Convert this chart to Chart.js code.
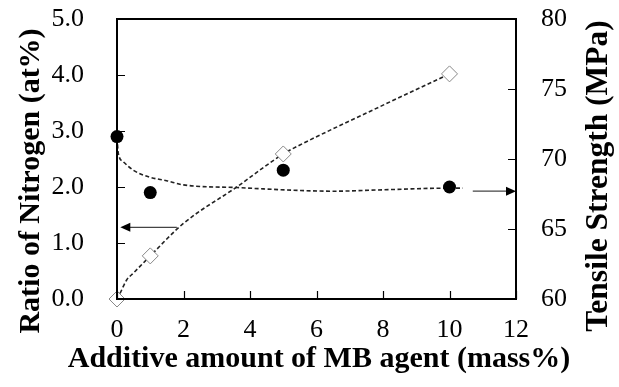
<!DOCTYPE html>
<html>
<head>
<meta charset="utf-8">
<script src="https://cdn.jsdelivr.net/npm/chart.js@4.4.1/dist/chart.umd.min.js"></script>
<style>
  body { margin: 0; background: #fff; }
  canvas { display: block; }
</style>
</head>
<body>
<canvas id="myChart" width="619" height="387"></canvas>
<script>
// measured points
var addAmount = [0, 1, 5, 10];
var nitrogenRatio = [0, 0.77, 2.59, 4.02];
var tensileStrength = [71.6, 67.6, 69.2, 68.0];

// dashed trend curves
var nTrendX = [0, 0.09, 0.29, 0.49, 1, 2, 3.6, 5, 5.5, 7.5, 10];
var nTrendY = [0, 0.10, 0.34, 0.46, 0.77, 1.35, 2.0, 2.59, 2.75, 3.32, 4.02];
var tTrendX = [0, 0.04, 0.19, 0.49, 0.99, 1.49, 2, 3.6, 5.5, 6.5, 8, 10, 10.4];
var tTrendY = [71.5, 70.4, 69.8, 69.2, 68.7, 68.45, 68.15, 67.96, 67.75, 67.7, 67.8, 67.92, 67.92];

// axis ticks
var xTicks = [0, 2, 4, 6, 8, 10, 12];
var yTicks = [0, 1, 2, 3, 4, 5];
var y2Ticks = [60, 65, 70, 75, 80];

// arrows pointing to the axis each series belongs to [xFrom, xTo, y, axis]
var arrows = [
  [1.8, 0.1, 1.28, "y"],
  [10.7, 12, 67.7, "y2"]
];

var xTitle = "Additive amount of MB agent (mass%)";
var yTitle = "Ratio of Nitrogen (at%)";
var y2Title = "Tensile Strength (MPa)";

function pairs(xs, ys) {
  return xs.map(function (x, i) { return {x: x, y: ys[i]}; });
}

var serif = "'Liberation Serif', 'Times New Roman', serif";

var decorations = {
  id: "decorations",
  afterDatasetsDraw: function (chart) {
    var ctx = chart.ctx, a = chart.chartArea;
    var sx = chart.scales.x, sy = chart.scales.y, sy2 = chart.scales.y2;
    ctx.save();
    ctx.strokeStyle = "#000";
    ctx.lineWidth = 1.2;
    ctx.beginPath();
    xTicks.forEach(function (v) {
      var px = Math.round(sx.getPixelForValue(v)) + 0.5;
      ctx.moveTo(px, a.bottom); ctx.lineTo(px, a.bottom - 8);
    });
    yTicks.forEach(function (v) {
      var py = Math.round(sy.getPixelForValue(v)) + 0.5;
      ctx.moveTo(a.left, py); ctx.lineTo(a.left + 8, py);
    });
    y2Ticks.forEach(function (v) {
      var py = Math.round(sy2.getPixelForValue(v)) + 0.5;
      ctx.moveTo(a.right, py); ctx.lineTo(a.right - 8, py);
    });
    ctx.stroke();

    // frame
    ctx.lineWidth = 2;
    ctx.strokeRect(a.left, a.top, a.right - a.left, a.bottom - a.top);

    // arrows
    arrows.forEach(function (ar) {
      var x1 = sx.getPixelForValue(ar[0]);
      var x2 = sx.getPixelForValue(ar[1]);
      var py = chart.scales[ar[3]].getPixelForValue(ar[2]);
      var dir = x2 > x1 ? 1 : -1;
      ctx.strokeStyle = "#444";
      ctx.lineWidth = 1.3;
      ctx.beginPath();
      ctx.moveTo(x1, py); ctx.lineTo(x2 - dir * 8, py);
      ctx.stroke();
      ctx.fillStyle = "#000";
      ctx.beginPath();
      ctx.moveTo(x2, py);
      ctx.lineTo(x2 - dir * 10, py - 4.5);
      ctx.lineTo(x2 - dir * 10, py + 4.5);
      ctx.closePath();
      ctx.fill();
    });

    // axis titles
    ctx.fillStyle = "#000";
    ctx.textAlign = "center";
    ctx.textBaseline = "middle";
    ctx.font = "bold 30px " + serif;
    ctx.fillText(xTitle, 319, 359);

    ctx.save();
    ctx.translate(31, 181);
    ctx.rotate(-Math.PI / 2);
    ctx.font = "bold 30px " + serif;
    ctx.fillText(yTitle, 0, 0);
    ctx.restore();

    ctx.save();
    ctx.translate(599, 176);
    ctx.rotate(-Math.PI / 2);
    ctx.font = "bold 31.5px " + serif;
    ctx.fillText(y2Title, 0, 0);
    ctx.restore();

    ctx.restore();
  }
};

var tickFont = {family: serif, size: 26};

new Chart("myChart", {
  type: "scatter",
  data: {
    datasets: [
      {
        data: pairs(addAmount, tensileStrength),
        yAxisID: "y2",
        pointStyle: "circle",
        pointRadius: 6.5,
        backgroundColor: "#000",
        borderColor: "#000",
        borderWidth: 0,
        clip: false
      },
      {
        data: pairs(addAmount, nitrogenRatio),
        yAxisID: "y",
        pointStyle: "rectRot",
        pointRadius: 8,
        backgroundColor: "#fff",
        borderColor: "#888",
        borderWidth: 1,
        clip: false
      },
      {
        data: pairs(tTrendX, tTrendY),
        yAxisID: "y2",
        showLine: true,
        pointRadius: 0,
        borderColor: "#222",
        borderWidth: 1.6,
        borderDash: [4, 2.5],
        cubicInterpolationMode: "monotone",
        clip: false
      },
      {
        data: pairs(nTrendX, nTrendY),
        yAxisID: "y",
        showLine: true,
        pointRadius: 0,
        borderColor: "#222",
        borderWidth: 1.6,
        borderDash: [4, 2.5],
        cubicInterpolationMode: "monotone",
        clip: false
      }
    ]
  },
  options: {
    responsive: false,
    animation: false,
    layout: {padding: {top: 19, left: 0, right: 0, bottom: 0}},
    plugins: {legend: {display: false}, tooltip: {enabled: false}},
    scales: {
      x: {
        type: "linear",
        min: 0, max: 12,
        afterFit: function (s) { s.height = 88; },
        afterBuildTicks: function (s) { s.ticks = xTicks.map(function (v) { return {value: v}; }); },
        grid: {display: false, drawTicks: true, tickLength: 16},
        border: {display: false},
        ticks: {padding: 0, color: "#000", font: tickFont}
      },
      y: {
        position: "left",
        min: 0, max: 5,
        afterFit: function (s) { s.width = 117; },
        afterBuildTicks: function (s) { s.ticks = yTicks.map(function (v) { return {value: v}; }); },
        grid: {display: false, drawTicks: true, tickLength: 33},
        border: {display: false},
        ticks: {
          padding: 0, color: "#000", font: tickFont,
          callback: function (v) { return v.toFixed(1); }
        }
      },
      y2: {
        position: "right",
        min: 60, max: 80,
        afterFit: function (s) { s.width = 103; },
        afterBuildTicks: function (s) { s.ticks = y2Ticks.map(function (v) { return {value: v}; }); },
        grid: {display: false, drawTicks: true, tickLength: 25},
        border: {display: false},
        ticks: {padding: 0, color: "#000", font: tickFont}
      }
    }
  },
  plugins: [decorations]
});
</script>
</body>
</html>
